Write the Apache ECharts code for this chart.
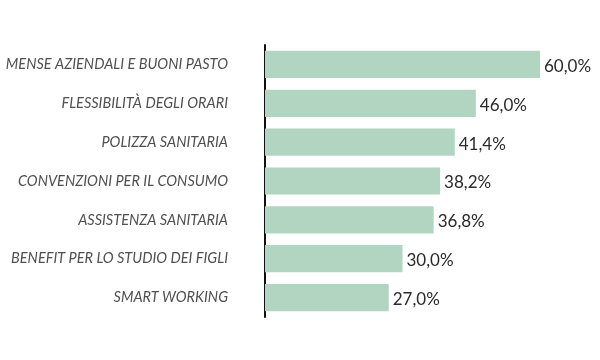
<!DOCTYPE html>
<html><head><meta charset="utf-8">
<script src="https://cdn.jsdelivr.net/npm/echarts@6/dist/echarts.min.js"></script>
<style>html,body{margin:0;padding:0;background:#fff}#c{width:600px;height:360px}</style>
</head><body><div id="c"></div>
<script>
const categories = ["MENSE AZIENDALI E BUONI PASTO","FLESSIBILITÀ DEGLI ORARI","POLIZZA SANITARIA","CONVENZIONI PER IL CONSUMO","ASSISTENZA SANITARIA","BENEFIT PER LO STUDIO DEI FIGLI","SMART WORKING"];
const values = [60.0, 46.0, 41.4, 38.2, 36.8, 30.0, 27.0];

const chart = echarts.init(document.getElementById('c'));
chart.setOption({
  animation: false,
  grid: {left: 265, right: 60, top: 45, height: 272, containLabel: false},
  xAxis: {type: 'value', min: 0, max: 60, show: false},
  yAxis: {
    type: 'category', data: categories, inverse: true,
    axisLine: {show: true, lineStyle: {color: '#111', width: 2}},
    axisTick: {show: false},
    axisLabel: {margin: 37, color: '#505050', fontFamily: 'Lato', fontStyle: 'italic', fontSize: 14.5,
      padding: [4, 0, 0, 0]}
  },
  series: [{
    type: 'bar', data: values, barWidth: '70%',
    itemStyle: {color: '#b2d5c2'},
    label: {show: true, position: 'right', distance: 4, offset: [0, 2], color: '#2a2a2a', fontFamily: 'Lato', fontSize: 17,
      formatter: p => p.value.toFixed(1).replace('.', ',') + '%'}
  }]
});
</script></body></html>
